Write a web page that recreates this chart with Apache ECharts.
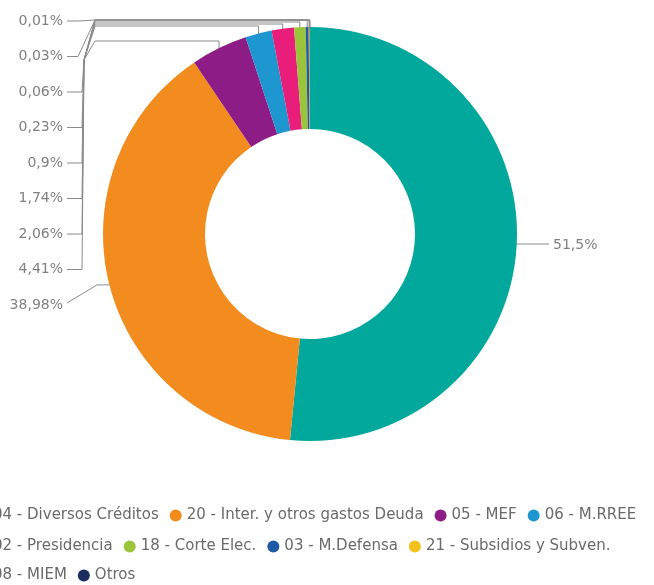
<!DOCTYPE html>
<html><head><meta charset="utf-8">
<script src="https://cdn.jsdelivr.net/npm/echarts@6/dist/echarts.min.js"></script>
<style>html,body{margin:0;padding:0;background:#fff}#c{width:654px;height:585px}</style>
</head><body><div id="c"></div>
<script>
// ---- data ----
const categories = ['04 - Diversos Créditos','20 - Inter. y otros gastos Deuda','05 - MEF','06 - M.RREE','02 - Presidencia','18 - Corte Elec.','03 - M.Defensa','21 - Subsidios y Subven.','08 - MIEM','Otros'];
const values = [51.5, 38.98, 4.41, 2.06, 1.74, 0.9, 0.23, 0.06, 0.03, 0.01];
const colors = ['#03A89C','#F28C1E','#8E1C87','#1E96D0','#E91E7A','#9AC43B','#1F5AA6','#F3C21C','#8A5A3A','#1B2F5E'];
const legendRows = [[0,1,2,3],[4,5,6,7],[8,9]];

// ---- layout constants ----
const CX = 310, CY = 234, R_OUT = 207, R_IN = 105;
const total = values.reduce((a, b) => a + b, 0);
function midPoint(i) {
  let cum = 0;
  for (let j = 0; j < i; j++) cum += values[j];
  const a = (cum + values[i] / 2) / total * 2 * Math.PI;
  return [CX + R_OUT * Math.sin(a), CY - R_OUT * Math.cos(a)];
}
function fmt(v) { return String(v).replace('.', ',') + '%'; }
const routeY = [0, 0, 41, 26, 24, 22, 20, 20, 20, 20];
const FONT = "'DejaVu Sans', sans-serif";

const chart = echarts.init(document.getElementById('c'), null, { renderer: 'canvas' });
chart.setOption({
  animation: false,
  backgroundColor: '#fff',
  legend: legendRows.map((row, r) => ({
    data: row.map(i => categories[i]),
    left: -24, top: [508, 539, 568][r], width: 1200,
    orient: 'horizontal', icon: 'circle', itemWidth: 12, itemHeight: 12, itemGap: 11,
    padding: 0, selectedMode: false,
    textStyle: { color: '#6a6a6a', fontSize: 15, fontFamily: FONT }
  })),
  series: [{
    type: 'pie',
    center: [CX, CY],
    radius: [R_IN, R_OUT],
    startAngle: 90,
    clockwise: true,
    avoidLabelOverlap: false,
    data: categories.map((n, i) => ({ name: n, value: values[i], itemStyle: { color: colors[i] } })),
    label: {
      show: true, position: 'outside',
      formatter: p => fmt(values[p.dataIndex]),
      color: '#808080', fontSize: 14, fontFamily: FONT
    },
    labelLine: { show: true, lineStyle: { color: '#8a8a8a', width: 1 } },
    labelLayout: function (p) {
      const i = p.dataIndex;
      const m = midPoint(i);
      if (i === 0) {
        return { x: 553, y: m[1] + 1, align: 'left', verticalAlign: 'middle',
          labelLinePoints: [[m[0] - 2, m[1]], [m[0] + 15, m[1]], [549, m[1]]] };
      }
      const ly = 305 - 35.5 * (i - 1);
      if (i === 1) {
        return { x: 63, y: ly, align: 'right', verticalAlign: 'middle',
          labelLinePoints: [[67, ly - 2], [97, m[1]], [m[0] + 1, m[1]]] };
      }
      const hy = routeY[i];
      const pts = ly > 60
        ? [[67, ly], [82, ly], [84, 60], [95, hy], [m[0], hy], [m[0], m[1] + 1]]
        : [[67, ly], [78, ly], [95, hy], [m[0], hy], [m[0], m[1] + 1]];
      return { x: 63, y: ly, align: 'right', verticalAlign: 'middle', labelLinePoints: pts };
    }
  }]
});
</script>
</body></html>
